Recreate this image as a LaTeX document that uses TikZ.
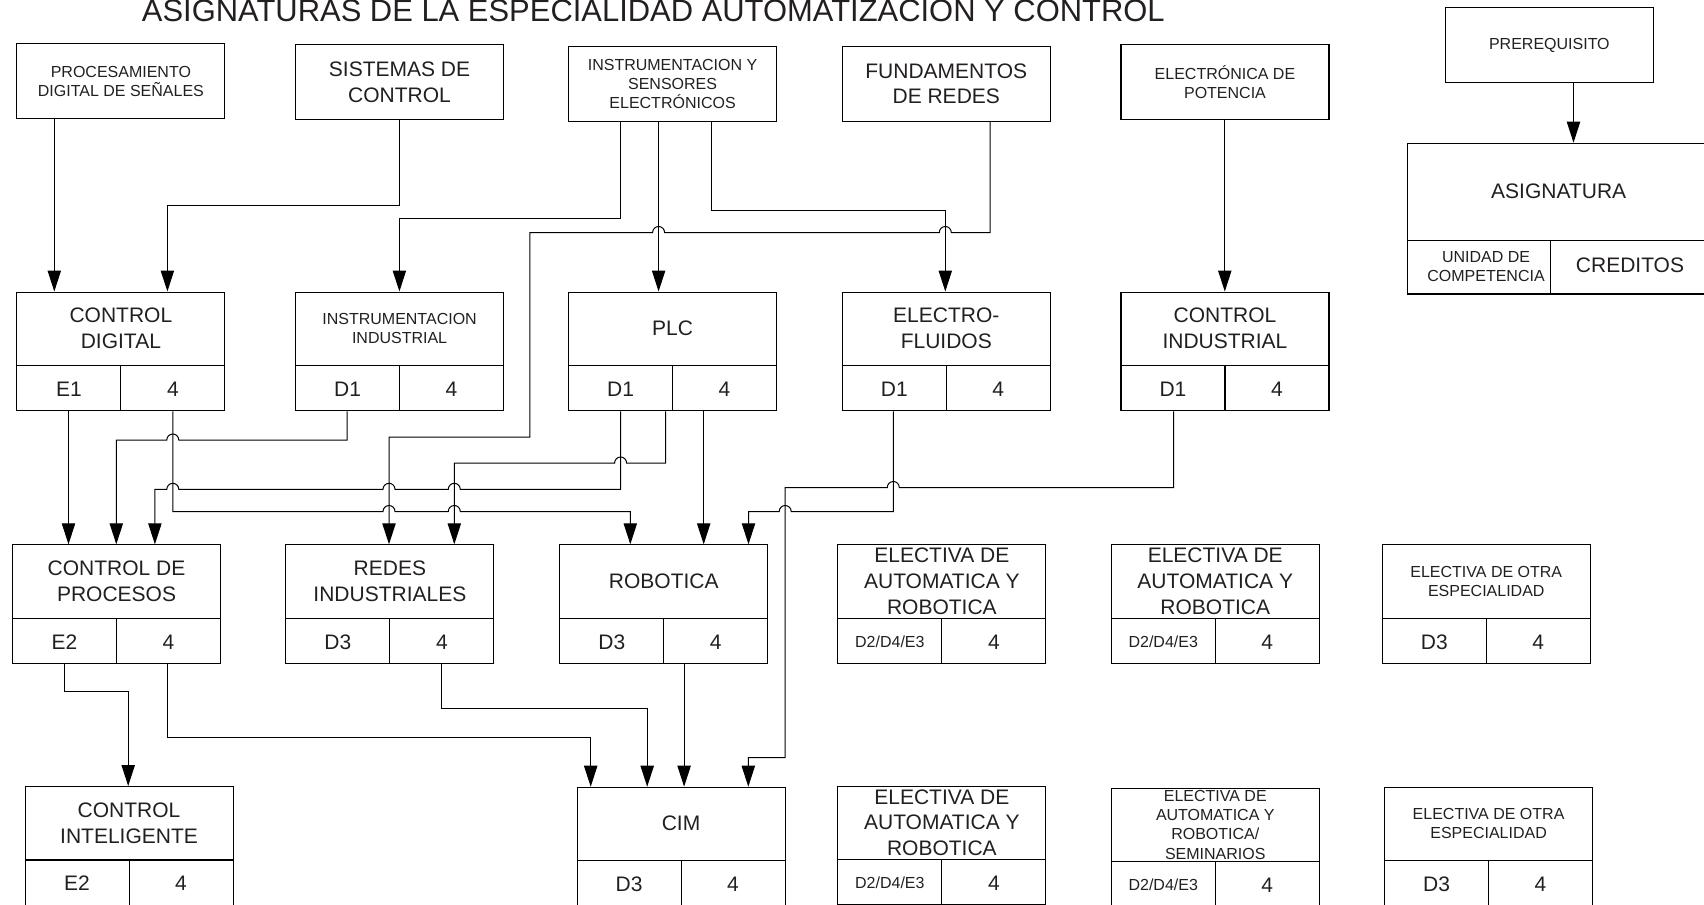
\documentclass[tikz,border=0pt]{standalone}
\usepackage{fontspec}
\setmainfont{Liberation Sans}
\usetikzlibrary{arrows.meta,calc}
\definecolor{ink}{HTML}{231F20}
\tikzset{
  boxline/.style={line width=0.85pt},
  subjbox/.style={draw, line width=0.85pt, inner sep=0pt, minimum width=156pt, minimum height=89pt},
  topbox/.style={draw, line width=0.85pt, inner sep=0pt, minimum width=156pt, minimum height=56.25pt},
  big/.style={font=\fontsize{15.75}{19.3}\selectfont, align=center, inner sep=0pt, text=ink},
  small/.style={font=\fontsize{12}{14.4}\selectfont, align=center, inner sep=0pt, text=ink},
  conn/.style={line width=0.75pt, -{Triangle[length=15.75pt,width=10pt]}},
}
\newcommand\mksubj[7]{%
  \node[subjbox,anchor=north west] (#1) at (#2,#3) {};
  \draw[boxline] ([yshift=-55.5pt]#1.north west) -- ([yshift=-55.5pt]#1.north east);
  \draw[boxline] ([yshift=-55.5pt]#1.north) -- (#1.south);
  \node[#4] (#1-t) at ([yshift=-27.75pt]#1.north) {#5};
  \node[#6] (#1-u) at ([xshift=-39pt,yshift=16.75pt]#1.south) {#7};
  \node[big] (#1-k) at ([xshift=39pt,yshift=16.75pt]#1.south) {4};
}
\begin{document}
\begin{tikzpicture}[x=0.75pt,y=-0.75pt]
\useasboundingbox (0,0) rectangle (1704,904);

% title
\node[anchor=base west, inner sep=0pt, text=ink, font=\fontsize{23.2}{28}\selectfont] (title) at (141.7,21.2)
  {ASIGNATURAS DE LA ESPECIALIDAD AUTOMATIZACION Y CONTROL};

% top row
\node[topbox,small,anchor=north west] (proc) at (16.3,43.3) {PROCESAMIENTO\\DIGITAL DE SEÑALES};
\node[topbox,big,anchor=north west] (sis) at (295,44.3) {SISTEMAS DE\\CONTROL};
\node[topbox,small,anchor=north west] (ins) at (568,45.7) {INSTRUMENTACION Y\\SENSORES\\ELECTRÓNICOS};
\node[topbox,big,anchor=north west] (fun) at (841.7,45.7) {FUNDAMENTOS\\DE REDES};
\node[topbox,small,anchor=north west] (elp) at (1120.4,44.3) {ELECTRÓNICA DE\\POTENCIA};

% legend
\node[topbox,small,anchor=north west] (pre) at (1444.8,7.3) {PREREQUISITO};
\node[draw, line width=0.85pt, inner sep=0pt, minimum width=227pt, minimum height=113pt, anchor=north west] (asig) at (1407.3,142.7) {};
\draw[boxline] (asig.west |- 0,240.3) -- (asig.east |- 0,240.3);
\draw[boxline] (1550.3,240.3) -- (asig.south -| 1550.3,0);
\node[big] (asigt) at (1558.7,191) {ASIGNATURA};
\node[big] (cred) at (1630,265.5) {CREDITOS};
\node[small] (uc) at (1486,266.5) {UNIDAD DE\\COMPETENCIA};

% row 2
\mksubj{cd}{16.3}{291.5}{big}{CONTROL\\DIGITAL}{big}{E1}
\mksubj{ii}{295}{291.5}{small}{INSTRUMENTACION\\INDUSTRIAL}{big}{D1}
\mksubj{plc}{568}{291.5}{big}{PLC}{big}{D1}
\mksubj{ef}{841.7}{291.5}{big}{ELECTRO-\\FLUIDOS}{big}{D1}
\mksubj{ci}{1120.4}{291.5}{big}{CONTROL\\INDUSTRIAL}{big}{D1}

% row 3
\mksubj{cp}{12}{544.3}{big}{CONTROL DE\\PROCESOS}{big}{E2}
\mksubj{ri}{285.3}{544.3}{big}{REDES\\INDUSTRIALES}{big}{D3}
\mksubj{rob}{559.2}{544.3}{big}{ROBOTICA}{big}{D3}
\mksubj{ea1}{837.3}{544.3}{big}{ELECTIVA DE\\AUTOMATICA Y\\ROBOTICA}{small}{D2/D4/E3}
\mksubj{ea2}{1110.7}{544.3}{big}{ELECTIVA DE\\AUTOMATICA Y\\ROBOTICA}{small}{D2/D4/E3}
\mksubj{eo1}{1381.7}{544.3}{small}{ELECTIVA DE OTRA\\ESPECIALIDAD}{big}{D3}

% row 4
\mksubj{cint}{24.5}{786}{big}{CONTROL\\INTELIGENTE}{big}{E2}
\mksubj{cim}{576.5}{786.7}{big}{CIM}{big}{D3}
\mksubj{ea3}{837.3}{785.7}{big}{ELECTIVA DE\\AUTOMATICA Y\\ROBOTICA}{small}{D2/D4/E3}
\mksubj{ea4}{1110.7}{787.7}{small}{ELECTIVA DE\\AUTOMATICA Y\\ROBOTICA/\\SEMINARIOS}{small}{D2/D4/E3}
\mksubj{eo2}{1384}{786.7}{small}{ELECTIVA DE OTRA\\ESPECIALIDAD}{big}{D3}

% connectors
\draw[conn] (pre.south -| 1573.5,0) -- (asig.north -| 1573.5,0);
\draw[conn] (proc.south -| 54.3,0) -- (cd.north -| 54.3,0);
\draw[conn] (sis.south -| 399.4,0) -- (399.4,205.7) -- (167.4,205.7) -- (cd.north -| 167.4,0);
\draw[conn] (ins.south -| 620.6,0) -- (620.6,218.3) -- (399.4,218.3) -- (ii.north -| 399.4,0);
\draw[conn] (ins.south -| 658.6,0) -- (plc.north -| 658.6,0);
\draw[conn] (ins.south -| 711.3,0) -- (711.3,210.7) -- (945.3,210.7) -- (ef.north -| 945.3,0);
\draw[conn] (fun.south -| 990,0) -- (990,232.5) -- (951.3,232.5) arc[start angle=0,end angle=-180,radius=6]
  -- (664.6,232.5) arc[start angle=0,end angle=-180,radius=6]
  -- (529.8,232.5) -- (529.8,437) -- (389,437) -- (ri.north -| 389,0);
\draw[conn] (elp.south -| 1224.8,0) -- (ci.north -| 1224.8,0);

\draw[conn] (cd.south -| 68.5,0) -- (cp.north -| 68.5,0);
\draw[conn] (ii.south -| 347.2,0) -- (347.2,440) -- (178.8,440) arc[start angle=0,end angle=-180,radius=6]
  -- (116.3,440) -- (cp.north -| 116.3,0);
\draw[conn] (plc.south -| 665.7,0) -- (665.7,463) -- (626.6,463) arc[start angle=0,end angle=-180,radius=6]
  -- (454.3,463) -- (ri.north -| 454.3,0);
\draw[conn] (plc.south -| 620.6,0) -- (620.6,489.3) -- (460.3,489.3) arc[start angle=0,end angle=-180,radius=6]
  -- (395,489.3) arc[start angle=0,end angle=-180,radius=6]
  -- (178.8,489.3) arc[start angle=0,end angle=-180,radius=6]
  -- (154.9,489.3) -- (cp.north -| 154.9,0);
\draw[conn] (cd.south -| 172.8,0) -- (172.8,511.5) -- (383,511.5) arc[start angle=180,end angle=360,radius=6]
  -- (448.3,511.5) arc[start angle=180,end angle=360,radius=6]
  -- (630.3,511.5) -- (rob.north -| 630.3,0);
\draw[conn] (plc.south -| 703.7,0) -- (rob.north -| 703.7,0);
\draw[conn] (ef.south -| 893.3,0) -- (893.3,511.5) -- (791.2,511.5) arc[start angle=0,end angle=-180,radius=6]
  -- (748.5,511.5) -- (rob.north -| 748.5,0);
\draw[conn] (ci.south -| 1173.7,0) -- (1173.7,487.5) -- (899.3,487.5) arc[start angle=0,end angle=-180,radius=6]
  -- (785.2,487.5) -- (785.2,757.7) -- (748.3,757.7) -- (cim.north -| 748.3,0);

\draw[conn] (cp.south -| 64.7,0) -- (64.7,691) -- (128.2,691) -- (cint.north -| 128.2,0);
\draw[conn] (cp.south -| 167.9,0) -- (167.9,737.7) -- (590.7,737.7) -- (cim.north -| 590.7,0);
\draw[conn] (ri.south -| 441.2,0) -- (441.2,708.3) -- (647.2,708.3) -- (cim.north -| 647.2,0);
\draw[conn] (rob.south -| 684.1,0) -- (cim.north -| 684.1,0);
\end{tikzpicture}
\end{document}
